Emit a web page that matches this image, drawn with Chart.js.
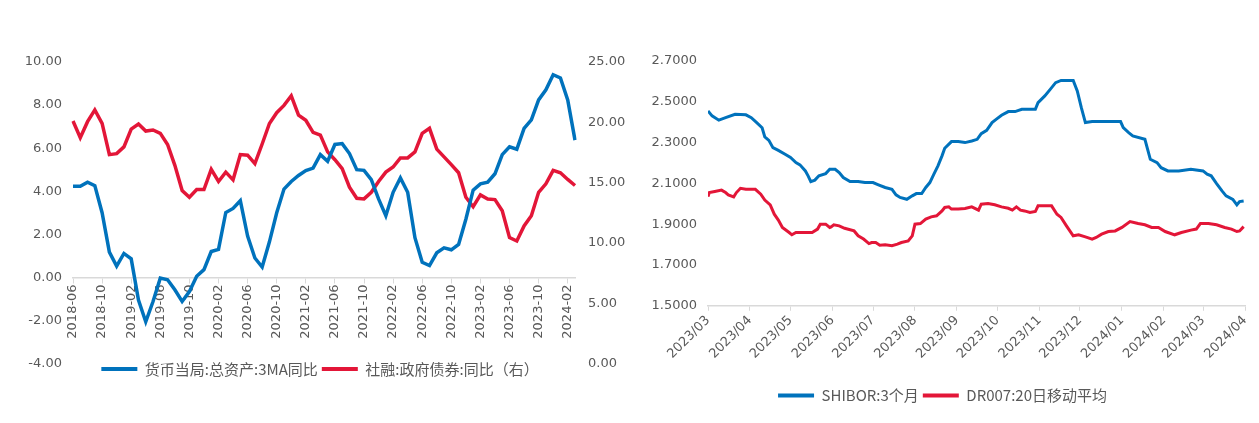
<!DOCTYPE html>
<html>
<head>
<meta charset="utf-8">
<script src="https://cdn.jsdelivr.net/npm/chart.js@4.4.1/dist/chart.umd.min.js"></script>
<style>
  html, body { margin: 0; padding: 0; background: #fff; }
  #wrap { display: flex; width: 1259px; height: 423px; }
  canvas { display: block; }
</style>
</head>
<body>
<div id="wrap">
  <canvas id="leftChart" width="640" height="423"></canvas>
  <canvas id="rightChart" width="619" height="423"></canvas>
</div>
<script>
// ---- left chart data (monthly, 2018-06 .. 2024-03) ----
const firstMonth = "2018-06";
const monthCount = 70;
// 货币当局:总资产:3MA同比 (left axis)
const pbocAssets = [
  4.23, 4.23, 4.42, 4.26, 3.0, 1.17, 0.52, 1.11, 0.86, -1.05,
  -2.06, -1.12, -0.03, -0.11, -0.58, -1.12, -0.66, 0.05, 0.36, 1.2,
  1.3, 3.01, 3.2, 3.56, 1.92, 0.9, 0.48, 1.65, 3.0, 4.1,
  4.45, 4.73, 4.96, 5.07, 5.7, 5.39, 6.17, 6.21, 5.75, 5.0,
  4.97, 4.54, 3.64, 2.86, 3.95, 4.62, 3.95, 1.84, 0.7, 0.55,
  1.14, 1.37, 1.28, 1.53, 2.7, 4.05, 4.34, 4.42, 4.81, 5.7,
  6.06, 5.95, 6.92, 7.31, 8.24, 8.71, 9.41, 9.26, 8.24, 6.37
];
// 社融:政府债券:同比 (right axis)
const govBonds = [
  20.11, 18.72, 20.05, 21.03, 19.91, 17.32, 17.4, 17.96, 19.44, 19.86,
  19.27, 19.36, 19.08, 18.16, 16.43, 14.34, 13.78, 14.42, 14.42, 16.1,
  15.09, 15.87, 15.23, 17.32, 17.27, 16.57, 18.2, 19.9, 20.8, 21.4,
  22.2, 20.6, 20.17, 19.16, 18.94, 17.55, 16.9, 16.16, 14.62, 13.7,
  13.65, 14.2, 15.09, 15.87, 16.29, 17.05, 17.05, 17.55, 19.08, 19.5,
  17.77, 17.13, 16.49, 15.82, 13.78, 13.0, 13.98, 13.64, 13.59, 12.67,
  10.44, 10.16, 11.41, 12.25, 14.2, 14.9, 16.01, 15.82, 15.26, 14.76
];

// ---- right chart data (daily, sampled) ----
const shiborDates = [
  "2023-03-01","2023-03-04","2023-03-09","2023-03-14","2023-03-21","2023-03-29","2023-04-02","2023-04-06",
  "2023-04-10","2023-04-12","2023-04-15","2023-04-18","2023-04-22","2023-04-27","2023-05-01","2023-05-05",
  "2023-05-08","2023-05-12","2023-05-14","2023-05-16","2023-05-19","2023-05-22","2023-05-27","2023-05-30",
  "2023-06-03","2023-06-06","2023-06-09","2023-06-14","2023-06-20","2023-06-25","2023-07-01","2023-07-05",
  "2023-07-10","2023-07-15","2023-07-18","2023-07-21","2023-07-26","2023-07-30","2023-08-02","2023-08-06",
  "2023-08-09","2023-08-12","2023-08-15","2023-08-18","2023-08-21","2023-08-23","2023-08-28","2023-09-02",
  "2023-09-07","2023-09-12","2023-09-16","2023-09-19","2023-09-23","2023-09-27","2023-09-30","2023-10-04",
  "2023-10-09","2023-10-14","2023-10-19","2023-10-29","2023-10-31","2023-11-05","2023-11-09","2023-11-13",
  "2023-11-17","2023-11-26","2023-11-29","2023-12-02","2023-12-05","2023-12-10","2023-12-19","2023-12-31",
  "2024-01-02","2024-01-06","2024-01-09","2024-01-18","2024-01-22","2024-01-27","2024-01-30","2024-02-04",
  "2024-02-12","2024-02-21","2024-03-01","2024-03-04","2024-03-07","2024-03-11","2024-03-15","2024-03-18",
  "2024-03-23","2024-03-26","2024-03-28","2024-03-31"
];
const shiborValues = [
  2.455, 2.431, 2.410, 2.422, 2.439, 2.436, 2.422, 2.398,
  2.373, 2.328, 2.311, 2.275, 2.262, 2.243, 2.227, 2.202,
  2.191, 2.161, 2.137, 2.109, 2.116, 2.137, 2.148, 2.169,
  2.169, 2.153, 2.129, 2.109, 2.109, 2.104, 2.104, 2.093,
  2.080, 2.071, 2.044, 2.031, 2.022, 2.039, 2.050, 2.050,
  2.080, 2.104, 2.145, 2.186, 2.235, 2.272, 2.305, 2.305,
  2.300, 2.308, 2.316, 2.344, 2.360, 2.398, 2.414, 2.434,
  2.452, 2.452, 2.463, 2.463, 2.496, 2.529, 2.561, 2.594,
  2.605, 2.605, 2.553, 2.471, 2.398, 2.403, 2.403, 2.403,
  2.373, 2.349, 2.333, 2.316, 2.218, 2.202, 2.177, 2.161,
  2.161, 2.169, 2.161, 2.145, 2.137, 2.099, 2.063, 2.039,
  2.022, 1.995, 2.011, 2.014
];
const dr007Dates = [
  "2023-03-01","2023-03-02","2023-03-06","2023-03-11","2023-03-14","2023-03-16","2023-03-20","2023-03-22",
  "2023-03-25","2023-03-29","2023-04-05","2023-04-09","2023-04-12","2023-04-16","2023-04-19","2023-04-22",
  "2023-04-25","2023-04-30","2023-05-02","2023-05-05","2023-05-09","2023-05-17","2023-05-21","2023-05-23",
  "2023-05-27","2023-05-30","2023-05-31","2023-06-02","2023-06-06","2023-06-10","2023-06-17","2023-06-20",
  "2023-06-24","2023-06-28","2023-06-30","2023-07-03","2023-07-06","2023-07-10","2023-07-15","2023-07-19",
  "2023-07-22","2023-07-27","2023-07-30","2023-08-01","2023-08-05","2023-08-09","2023-08-13","2023-08-17",
  "2023-08-21","2023-08-23","2023-08-26","2023-08-28","2023-09-02","2023-09-07","2023-09-12","2023-09-17",
  "2023-09-19","2023-09-24","2023-09-29","2023-10-04","2023-10-09","2023-10-12","2023-10-15","2023-10-18",
  "2023-10-21","2023-10-25","2023-10-29","2023-10-31","2023-11-05","2023-11-10","2023-11-14","2023-11-17",
  "2023-11-21","2023-11-26","2023-11-30","2023-12-05","2023-12-10","2023-12-13","2023-12-17","2023-12-22",
  "2023-12-27","2024-01-01","2024-01-07","2024-01-13","2024-01-18","2024-01-23","2024-01-28","2024-02-02",
  "2024-02-09","2024-02-14","2024-02-21","2024-02-25","2024-02-28","2024-03-05","2024-03-11","2024-03-17",
  "2024-03-22","2024-03-26","2024-03-28","2024-03-31"
];
const dr007Values = [
  2.035, 2.055, 2.060, 2.067, 2.055, 2.044, 2.034, 2.055,
  2.076, 2.071, 2.071, 2.047, 2.018, 1.995, 1.949, 1.920,
  1.884, 1.859, 1.848, 1.859, 1.859, 1.859, 1.876, 1.900,
  1.900, 1.884, 1.887, 1.897, 1.892, 1.880, 1.867, 1.843,
  1.827, 1.805, 1.810, 1.810, 1.797, 1.799, 1.794, 1.802,
  1.810, 1.818, 1.843, 1.900, 1.903, 1.925, 1.936, 1.941,
  1.965, 1.982, 1.985, 1.974, 1.974, 1.977, 1.985, 1.969,
  1.998, 2.001, 1.995, 1.985, 1.978, 1.969, 1.985, 1.969,
  1.965, 1.957, 1.962, 1.990, 1.990, 1.990, 1.949, 1.933,
  1.892, 1.843, 1.848, 1.838, 1.827, 1.835, 1.851, 1.864,
  1.867, 1.884, 1.913, 1.903, 1.897, 1.884, 1.884, 1.864,
  1.848, 1.859, 1.871, 1.876, 1.903, 1.903, 1.897, 1.884,
  1.876, 1.864, 1.867, 1.888
];
const monthTickLabels = [
  "2023/03","2023/04","2023/05","2023/06","2023/07","2023/08","2023/09",
  "2023/10","2023/11","2023/12","2024/01","2024/02","2024/03","2024/04"
];

const BLUE = "rgb(0,114,188)";
const RED = "rgb(227,22,56)";
const TEXT = "#595959";
const AXIS = "#d9d9d9";
const FONT = "'Noto Sans CJK SC', 'Noto Sans', sans-serif";
const NUM_FONT = "'DejaVu Sans', 'Noto Sans', sans-serif";

// build month labels for the left chart
const months = [];
{
  let y = +firstMonth.slice(0, 4);
  let m = +firstMonth.slice(5, 7);
  for (let i = 0; i < monthCount; i++) {
    months.push(`${y}-${String(m).padStart(2, "0")}`);
    m++;
    if (m > 12) { m = 1; y++; }
  }
}

// legend boxes drawn as plain bars, no outline
const legendLabels = (chart) =>
  Chart.defaults.plugins.legend.labels
    .generateLabels(chart)
    .map((l) => ({ ...l, lineWidth: 0 }));

const legendOpts = {
  position: "bottom",
  labels: {
    boxWidth: 36,
    boxHeight: 4,
    padding: 4,
    color: TEXT,
    font: { size: 15, family: FONT },
    generateLabels: legendLabels,
  },
};

// nudge the legend up/down after layout
const legendShift = {
  id: "legendShift",
  afterLayout(chart, args, opts) {
    const l = chart.legend;
    if (l && opts.dy) {
      l.top += opts.dy;
      l.bottom += opts.dy;
    }
  },
};

// ---- left chart ----
new Chart(document.getElementById("leftChart"), {
  type: "line",
  data: {
    labels: months,
    datasets: [
      {
        label: "货币当局:总资产:3MA同比",
        data: pbocAssets,
        borderColor: BLUE,
        backgroundColor: BLUE,
        borderWidth: 3.5,
        pointRadius: 0,
        yAxisID: "y",
      },
      {
        label: "社融:政府债券:同比（右）",
        data: govBonds,
        borderColor: RED,
        backgroundColor: RED,
        borderWidth: 3.5,
        pointRadius: 0,
        yAxisID: "y1",
      },
    ],
  },
  plugins: [legendShift],
  options: {
    responsive: false,
    animation: false,
    layout: { padding: { top: 62, left: 0, right: 0, bottom: 30.5 } },
    plugins: {
      legend: legendOpts,
      legendShift: { dy: -6 },
      tooltip: { enabled: false },
    },
    scales: {
      x: {
        type: "category",
        position: { y: 0 },
        offset: false,
        grid: {
          drawOnChartArea: false,
          drawTicks: true,
          tickLength: 5,
          color: (ctx) => (ctx.index % 4 === 0 ? AXIS : "rgba(0,0,0,0)"),
        },
        border: { display: true, color: AXIS, width: 1.5 },
        ticks: {
          autoSkip: false,
          minRotation: 90,
          maxRotation: 90,
          padding: 2,
          color: TEXT,
          font: { size: 13, family: NUM_FONT },
          callback: (v, i) => (i % 4 === 0 ? months[i] : ""),
        },
      },
      y: {
        position: "left",
        min: -4,
        max: 10,
        grid: { display: false, drawTicks: false },
        border: { display: false },
        ticks: {
          stepSize: 2,
          padding: 11,
          color: TEXT,
          font: { size: 13, family: NUM_FONT },
          callback: (v) => v.toFixed(2),
        },
        afterFit: (s) => { s.width = 73; },
      },
      y1: {
        position: "right",
        min: 0,
        max: 25,
        grid: { display: false, drawTicks: false },
        border: { display: false },
        ticks: {
          stepSize: 5,
          padding: 13,
          color: TEXT,
          font: { size: 13, family: NUM_FONT },
          callback: (v) => v.toFixed(2),
        },
        afterFit: (s) => { s.width = 65; },
      },
    },
  },
});

// ---- right chart ----
const dayOf = (s) =>
  (Date.UTC(+s.slice(0, 4), +s.slice(5, 7) - 1, +s.slice(8, 10)) -
    Date.UTC(2023, 2, 1)) / 86400000;
const tickDays = monthTickLabels.map((l) => dayOf(l.replace("/", "-") + "-01"));

new Chart(document.getElementById("rightChart"), {
  type: "line",
  data: {
    datasets: [
      {
        label: "SHIBOR:3个月",
        data: shiborDates.map((d, i) => ({ x: dayOf(d), y: shiborValues[i] })),
        borderColor: BLUE,
        backgroundColor: BLUE,
        borderWidth: 3,
        pointRadius: 0,
      },
      {
        label: "DR007:20日移动平均",
        data: dr007Dates.map((d, i) => ({ x: dayOf(d), y: dr007Values[i] })),
        borderColor: RED,
        backgroundColor: RED,
        borderWidth: 3,
        pointRadius: 0,
      },
    ],
  },
  plugins: [legendShift],
  options: {
    responsive: false,
    animation: false,
    layout: { padding: { top: 61, left: 0, right: 14, bottom: 30 } },
    plugins: {
      legend: legendOpts,
      legendShift: { dy: 20 },
      tooltip: { enabled: false },
    },
    scales: {
      x: {
        type: "linear",
        min: tickDays[0],
        max: tickDays[tickDays.length - 1],
        afterBuildTicks: (scale) => {
          scale.ticks = tickDays.map((v) => ({ value: v }));
        },
        grid: {
          drawOnChartArea: false,
          drawTicks: true,
          tickLength: 5,
          color: AXIS,
        },
        border: { display: true, color: AXIS, width: 1.5 },
        ticks: {
          autoSkip: false,
          minRotation: 45,
          maxRotation: 45,
          padding: 2,
          color: TEXT,
          font: { size: 13, family: NUM_FONT },
          callback: (v) => {
            const i = tickDays.indexOf(v);
            return i >= 0 ? monthTickLabels[i] : "";
          },
        },
      },
      y: {
        min: 1.5,
        max: 2.7,
        grid: { display: false, drawTicks: false },
        border: { display: false },
        ticks: {
          stepSize: 0.2,
          padding: 11,
          color: TEXT,
          font: { size: 13, family: NUM_FONT },
          callback: (v) => v.toFixed(4),
        },
        afterFit: (s) => { s.width = 68; },
      },
    },
  },
});
</script>
</body>
</html>
